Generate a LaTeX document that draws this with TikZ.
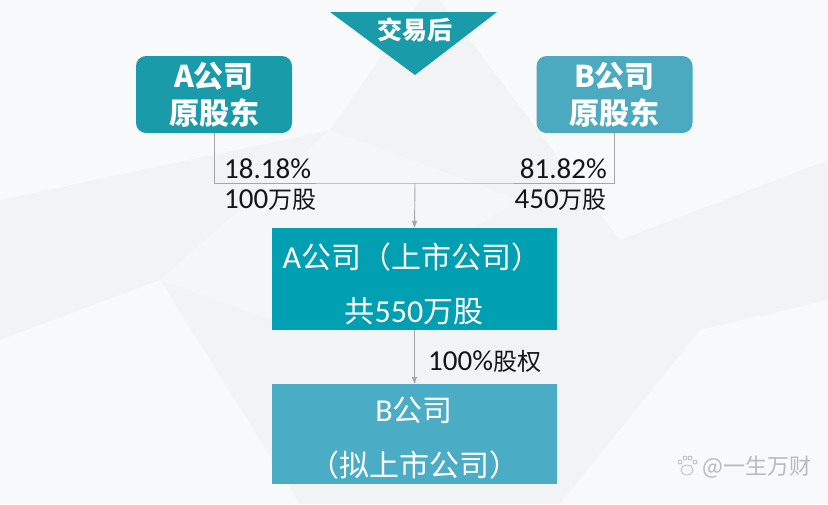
\documentclass[tikz,border=0pt]{standalone}
\usepackage{fontspec}
\setmainfont{Noto Sans CJK SC}
\newfontfamily\lat{Carlito}
\usetikzlibrary{arrows.meta}
\definecolor{bgc}{HTML}{F2F3F5}
\definecolor{tealA}{HTML}{1A9BAA}
\definecolor{tealB}{HTML}{4BAABF}
\definecolor{tealM}{HTML}{00A0B2}
\definecolor{blueB}{HTML}{4BACC6}
\definecolor{linec}{HTML}{A6A6A6}
\definecolor{txt}{HTML}{151515}
\newcommand{\dg}[1]{{\lat\fontsize{29}{30}\selectfont #1}}
\newcommand{\dgb}[1]{{\lat\fontsize{32}{34}\selectfont #1}}
\tikzset{
  topbox/.style={rounded corners=10pt, minimum width=156pt, minimum height=77pt, inner sep=0pt, align=center, text=white, font=\fontsize{30}{37}\selectfont\bfseries},
  bigbox/.style={minimum width=285pt, inner sep=0pt},
  boxtext/.style={text=white, inner sep=0pt, font=\fontsize{30}{32}\selectfont},
  conn/.style={draw=linec, line width=0.9pt},
  arr/.style={conn, -{Triangle[length=7pt,width=5pt]}},
  lbl/.style={text=txt, inner sep=0pt, font=\fontsize{24}{30}\selectfont},
  poly/.style={fill=white, opacity=0.5}
}
\begin{document}
\begin{tikzpicture}[x=1pt,y=-1pt]
\useasboundingbox (0,0) rectangle (828,504);
% background
\fill[bgc] (0,0) rectangle (828,504);
\fill[poly] (0,0) -- (420,0) -- (330,130) -- (0,200) -- cycle;
\fill[poly] (440,0) -- (828,0) -- (828,160) -- (620,240) -- cycle;
\fill[poly] (0,340) -- (160,280) -- (300,504) -- (0,504) -- cycle;
\fill[poly] (560,504) -- (700,330) -- (828,300) -- (828,504) -- cycle;
\fill[white, opacity=0.3] (330,130) -- (520,200) -- (300,330) -- (160,280) -- cycle;
% triangle
\fill[tealA] (330,12) -- (497,12) -- (415,75) -- cycle;
\node[text=white, inner sep=0pt, font=\fontsize{25}{30}\selectfont\bfseries] (tri) at (415,30) {交易后};
% top boxes
\node[topbox, fill=tealA] (ash) at (214,94.5) {A公司\\原股东};
\node[topbox, fill=tealB] (bsh) at (614.5,94.5) {B公司\\原股东};
% middle boxes
\node[bigbox, fill=tealM, minimum height=102pt] (alist) at (414.5,279) {};
\node[boxtext] (alist1) at (412,257) {\dgb{A}公司（上市公司）};
\node[boxtext] (alist2) at (414,311) {共\dgb{550}万股};
\node[bigbox, fill=blueB, minimum height=100pt] (bco) at (414.5,434) {};
\node[boxtext] (bco1) at (414,410) {\dgb{B}公司};
\node[boxtext] (bco2) at (414,465) {（拟上市公司）};
% connectors
\coordinate (mid) at (415,183);
\draw[conn] (ash.south) |- (mid) -| (bsh.south);
\draw[arr] (mid) -- (alist.north);
\draw[arr] (alist.south) -- (bco.north);
% labels
\node[lbl, anchor=west] (pa) at (224,169) {\dg{18.18\%}};
\node[lbl, anchor=west] (sa) at (224,200) {\dg{100}万股};
\node[lbl, anchor=east] (pb) at (607,169) {\dg{81.82\%}};
\node[lbl, anchor=east] (sb) at (607,200) {\dg{450}万股};
\node[lbl, anchor=west] (pc) at (428,361) {\dg{100\%}股权};
% watermark
\node[text=gray!55, inner sep=0pt, font=\fontsize{22}{24}\selectfont, anchor=east] (wm) at (812,467) {@一生万财};
\begin{scope}[draw=gray!55, line width=0.8pt]
\draw (687,470) ellipse (6pt and 5pt);
\draw (680,462) circle (2pt);
\draw (685,458) circle (2pt);
\draw (690,458) circle (2pt);
\draw (695,462) circle (2pt);
\end{scope}
\end{tikzpicture}
\end{document}
